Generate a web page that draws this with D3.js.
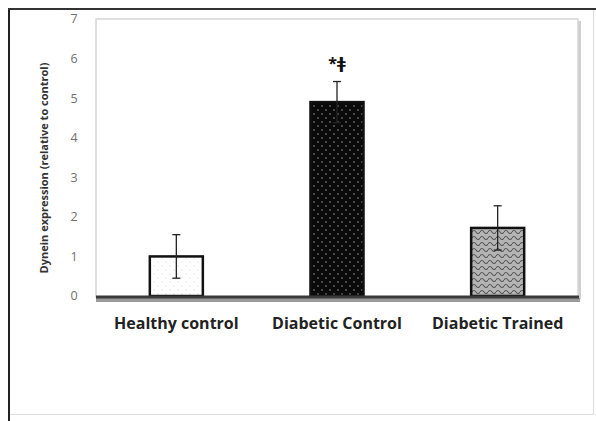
<!DOCTYPE html>
<html>
<head>
<meta charset="utf-8">
<script src="https://cdn.jsdelivr.net/npm/d3@7"></script>
<style>
  body { margin: 0; background: #fff; }
  svg text { font-family: "Open Sans", "DejaVu Sans", sans-serif; }
</style>
</head>
<body>
<div class="viz"></div>
<script>
const groups = ["Healthy control", "Diabetic Control", "Diabetic Trained"];
const means = [1.0, 4.9, 1.72];
const errors = [0.55, 0.52, 0.56];
const yTicks = [0, 1, 2, 3, 4, 5, 6, 7];
const marks = ["", "*ǂ", ""];

const W = 596, H = 421;
const plot = { left: 96, top: 19, right: 578, bottom: 297 };

const svg = d3.select('.viz')
    .append('svg')
    .attr('width', W)
    .attr('height', H);

// patterns for the bars
const defs = svg.append("defs");

const pDots = defs.append("pattern")
    .attr("id", "dots-light")
    .attr("width", 8).attr("height", 8)
    .attr("patternUnits", "userSpaceOnUse");
pDots.append("rect").attr("width", 8).attr("height", 8).attr("fill", "#fff");
pDots.append("circle").attr("cx", 2).attr("cy", 2).attr("r", 0.6).attr("fill", "#ccc");
pDots.append("circle").attr("cx", 6).attr("cy", 6).attr("r", 0.6).attr("fill", "#ccc");

const pDark = defs.append("pattern")
    .attr("id", "dots-dark")
    .attr("width", 8).attr("height", 8)
    .attr("patternUnits", "userSpaceOnUse");
pDark.append("rect").attr("width", 8).attr("height", 8).attr("fill", "#0a0a0a");
pDark.append("circle").attr("cx", 2).attr("cy", 2).attr("r", 0.9).attr("fill", "#666");
pDark.append("circle").attr("cx", 6).attr("cy", 6).attr("r", 0.9).attr("fill", "#666");

const pWave = defs.append("pattern")
    .attr("id", "wave")
    .attr("width", 8).attr("height", 6)
    .attr("patternUnits", "userSpaceOnUse");
pWave.append("rect").attr("width", 8).attr("height", 6).attr("fill", "#b4b4b4");
pWave.append("path")
    .attr("d", "M0,4 Q2,1 4,4 T8,4")
    .attr("fill", "none")
    .attr("stroke", "#5a5a5a")
    .attr("stroke-width", 1.1);

const fills = ["url(#dots-light)", "url(#dots-dark)", "url(#wave)"];

// outer frame
svg.append("rect")
    .attr("x", 9.5).attr("y", 9.5)
    .attr("width", W - 12).attr("height", H - 16)
    .attr("fill", "none")
    .attr("stroke", "#ddd");
svg.append("line")
    .attr("x1", 9).attr("x2", 9).attr("y1", 8).attr("y2", H)
    .attr("stroke", "#222").attr("stroke-width", 2);
svg.append("line")
    .attr("x1", 8).attr("x2", W).attr("y1", 9).attr("y2", 9)
    .attr("stroke", "#333").attr("stroke-width", 2);

// plot area border with a soft shadow on the right
svg.append("rect")
    .attr("x", plot.right).attr("y", plot.top + 2)
    .attr("width", 3).attr("height", plot.bottom - plot.top)
    .attr("fill", "#cfcfcf");
svg.append("rect")
    .attr("x", plot.left).attr("y", plot.top)
    .attr("width", plot.right - plot.left).attr("height", plot.bottom - plot.top)
    .attr("fill", "#fff")
    .attr("stroke", "#d6d6d6")
    .attr("stroke-width", 1.5);

const x = d3.scaleBand()
    .domain(groups)
    .range([plot.left, plot.right])
    .paddingInner(0.67)
    .paddingOuter(0.335);

const y = d3.scaleLinear()
    .domain([0, 7])
    .range([plot.bottom - 1, plot.top]);

// y tick labels
svg.append("g")
    .selectAll("text")
    .data(yTicks)
    .enter()
    .append("text")
    .attr("x", 74)
    .attr("y", d => y(d))
    .attr("dy", "0.35em")
    .attr("text-anchor", "middle")
    .attr("font-size", 12.5)
    .attr("fill", "#707070")
    .text(d => d);

// y axis title
svg.append("text")
    .attr("transform", `translate(48,${(plot.top + plot.bottom) / 2 + 10}) rotate(-90)`)
    .attr("text-anchor", "middle")
    .attr("font-size", 11)
    .attr("font-weight", "bold")
    .attr("fill", "#333")
    .text("Dynein expression (relative to control)");

// bars
svg.append("g")
    .selectAll("rect")
    .data(groups)
    .enter()
    .append("rect")
    .attr("x", d => x(d))
    .attr("y", (d, i) => y(means[i]))
    .attr("width", x.bandwidth())
    .attr("height", (d, i) => y(0) - y(means[i]))
    .attr("fill", (d, i) => fills[i])
    .attr("stroke", "#111")
    .attr("stroke-width", 2.5);

// error bars
const eb = svg.append("g")
    .attr("stroke", "#222")
    .attr("stroke-width", 1.3);
groups.forEach(function(g, i) {
    const cx = x(g) + x.bandwidth() / 2;
    eb.append("line")
        .attr("x1", cx).attr("x2", cx)
        .attr("y1", y(means[i] - errors[i])).attr("y2", y(means[i] + errors[i]));
    [means[i] - errors[i], means[i] + errors[i]].forEach(function(v) {
        eb.append("line")
            .attr("x1", cx - 4).attr("x2", cx + 4)
            .attr("y1", y(v)).attr("y2", y(v));
    });
});

// significance marks
svg.append("g")
    .selectAll("text")
    .data(groups)
    .enter()
    .append("text")
    .attr("x", d => x(d) + x.bandwidth() / 2)
    .attr("y", (d, i) => y(means[i] + errors[i]) - 13)
    .attr("text-anchor", "middle")
    .attr("font-size", 16)
    .attr("font-weight", "bold")
    .attr("fill", "#111")
    .text((d, i) => marks[i]);

// bottom axis: thick dark line with shadow
svg.append("rect")
    .attr("x", plot.left).attr("y", plot.bottom + 1)
    .attr("width", plot.right - plot.left + 2).attr("height", 4)
    .attr("fill", "#9a9a9a");
svg.append("line")
    .attr("x1", plot.left).attr("x2", plot.right + 1)
    .attr("y1", plot.bottom).attr("y2", plot.bottom)
    .attr("stroke", "#3a3a3a")
    .attr("stroke-width", 3);

// category labels
svg.append("g")
    .selectAll("text")
    .data(groups)
    .enter()
    .append("text")
    .attr("x", d => x(d) + x.bandwidth() / 2)
    .attr("y", 329)
    .attr("text-anchor", "middle")
    .attr("font-size", 16)
    .attr("font-weight", "bold")
    .attr("fill", "#222")
    .text(d => d);
</script>
</body>
</html>
